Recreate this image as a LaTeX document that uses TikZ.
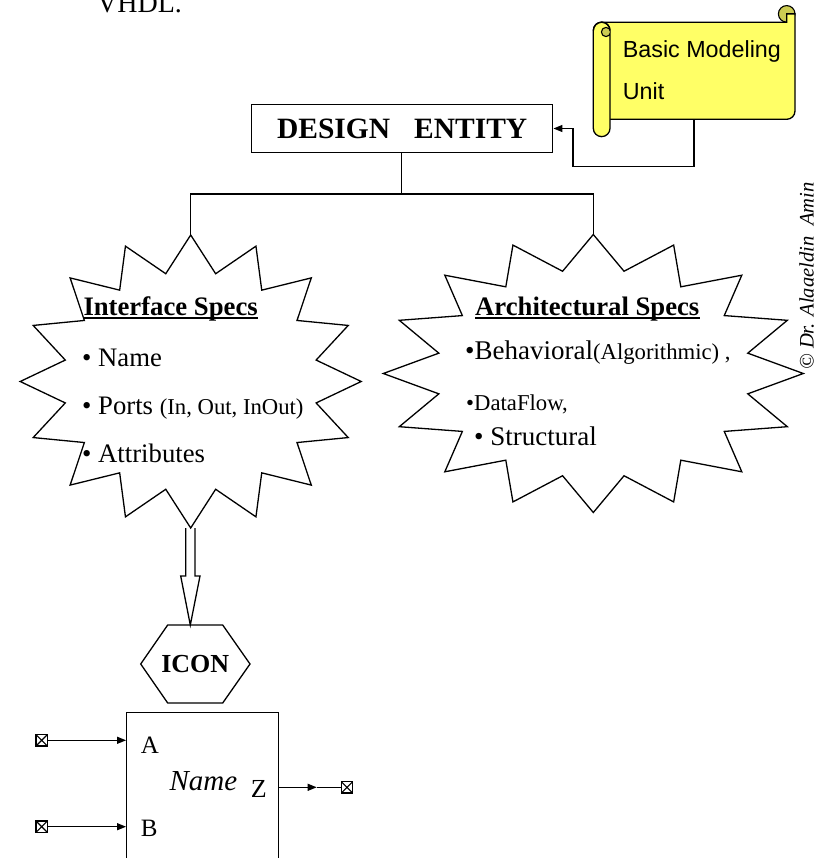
\documentclass[tikz,border=0pt]{standalone}
\usepackage{fontspec}
\setmainfont{Liberation Serif}
\newfontfamily\arialfont{Liberation Sans}
\usetikzlibrary{arrows.meta}

\definecolor{scrollyellow}{RGB}{255,255,102}
\definecolor{scrollshade}{RGB}{204,204,82}

\newcommand\setfs[1]{\fontsize{#1}{#1}\selectfont}

% 16-point burst: centre (#1,#2), radii #3 and #4, inner points at 75%
\newcommand\spikyburst[4]{%
  \draw[burst] ({#1},{#2-#4})
    \foreach \i in {1,...,31}{
      -- ({#1+(1-0.25*mod(\i,2))*#3*sin(\i*11.25)},{#2-(1-0.25*mod(\i,2))*#4*cos(\i*11.25)})
    } -- cycle;}

\tikzset{
  lbl/.style={inner sep=0pt, anchor=base west},
  burst/.style={line width=1.3},
  conn/.style={line width=1.5},
  tip/.style={-{Triangle[length=9pt,width=7pt]}},
  term/.style={draw, line width=1.4, minimum size=11.5pt, inner sep=0pt,
    path picture={\draw[line width=1.1]
      (path picture bounding box.south west) -- (path picture bounding box.north east)
      (path picture bounding box.north west) -- (path picture bounding box.south east);}},
  scroll/.style={fill=scrollyellow, draw, line width=1.3},
  shade/.style={fill=scrollshade, draw, line width=1.1},
}

\begin{document}
\begin{tikzpicture}[x=1pt,y=-1pt]
\useasboundingbox (0,0) rectangle (815,858);
\clip (0,0) rectangle (815,858);

% heading fragment at the top edge
\node[lbl, font=\setfs{28}] (vhdl) at (97,12.3) {VHDL.};

% ---------- scroll ----------
\filldraw[shade] (786.7,13.9) circle (8.3);
\filldraw[scroll] (601.7,22.2) -- (786.7,22.2) -- (786.7,13.9) -- (795,13.9)
  -- (795,111) arc (0:90:8.3) -- (601.7,119.3) -- cycle;
\filldraw[scroll] (593.3,30.5) arc (180:360:8.35) -- (610,128.3)
  arc (0:180:8.35) -- cycle;
\begin{scope}
  \clip (593.3,30.5) arc (180:360:8.35) -- (610,40) -- (593.3,40) -- cycle;
  \filldraw[shade] (606,32) circle (4.6);
\end{scope}
\draw[line width=1.3] (593.3,30.5) arc (180:360:8.35);
\node[lbl, font=\arialfont\setfs{23.3}] (bmu1) at (622.7,57.3) {Basic Modeling};
\node[lbl, font=\arialfont\setfs{23.3}] (bmu2) at (622.7,100) {Unit};
\coordinate (scrollfoot) at (694,119.3);

% ---------- design entity ----------
\node[draw, line width=1.5, minimum width=301pt, minimum height=48.4pt, inner sep=0pt,
      font=\bfseries\setfs{29.5}] (de) at (402.2,128.5) {DESIGN\hspace{24pt}ENTITY};

\draw[conn, line width=1.3, tip] (scrollfoot) |- (573,166.7) |- (de.east);

% ---------- bursts ----------
\spikyburst{190.7}{381.5}{170.5}{146.5}
\spikyburst{593.3}{373.5}{210}{139}
\coordinate (istop) at (190.7,235);
\coordinate (asttop) at (593.3,234.5);
\coordinate (isbot) at (190.7,528);
\coordinate (fork) at (401.7,194);

\draw[conn] (de.south -| fork) -- (fork);
\draw[conn] (istop) |- (fork) -| (asttop);

% interface specs
\node[lbl, font=\bfseries\setfs{26.7}] (ish) at (83.3,315) {Interface Specs};
\draw[line width=1.8] ([yshift=-3.3pt]ish.base west) -- ([yshift=-3.3pt]ish.base east);
\node[lbl, font=\setfs{26.7}] (is1) at (82,366) {• Name};
\node[lbl, font=\setfs{26.7}] (is2) at (82,414) {• Ports {\setfs{22.7}(In, Out, InOut)}};
\node[lbl, font=\setfs{26.7}] (is3) at (82,462) {• Attributes};

% architectural specs
\node[lbl, font=\bfseries\setfs{26.7}] (ash) at (475,315) {Architectural Specs};
\draw[line width=1.8] ([yshift=-3.3pt]ash.base west) -- ([yshift=-3.3pt]ash.base east);
\node[lbl, font=\setfs{27}] (as1) at (465,359) {•Behavioral{\setfs{22.7}(Algorithmic) ,}};
\node[lbl, font=\setfs{22.7}] (as2) at (466,410) {•DataFlow,};
\node[lbl, font=\setfs{27}] (as3) at (474,445) {• Structural};

% ---------- hollow arrow to the icon ----------
\draw[line width=1.3] (185.7,528) -- (185.7,576) -- (180.7,576) -- (190.3,625)
  -- (200,576) -- (195,576) -- (195,528);

\draw[line width=1.3] (167.7,625) -- (222.7,625) -- (250,664) -- (222.7,703)
  -- (167.7,703) -- (140.7,664) -- cycle;
\node[font=\bfseries\setfs{26}, inner sep=0pt] (icon) at (195.3,664) {ICON};

% ---------- entity block ----------
\node[draw, line width=1.3, minimum width=151.6pt, minimum height=167.3pt, inner sep=0pt]
  (blk) at (202.5,796.35) {};
\node[lbl, font=\setfs{25}] (pa) at (140.7,753.3) {A};
\node[lbl, font=\setfs{25}] (pb) at (140.7,836) {B};
\node[lbl, font=\itshape\setfs{29}] (nm) at (169.3,790.7) {Name};
\node[lbl, font=\setfs{26}] (pz) at (250.7,797.3) {Z};

\node[term] (ta) at (41.7,740.3) {};
\node[term] (tb) at (41.7,826.7) {};
\node[term] (tz) at (347,787.3) {};
\coordinate (zmid) at (316.7,787.3);

\draw[line width=1.2, tip] (ta.east) -- (blk.west |- ta);
\draw[line width=1.2, tip] (tb.east) -- (blk.west |- tb);
\draw[line width=1.2, tip] (blk.east |- tz) -- (zmid);
\draw[line width=1.2] (zmid) -- (tz.west);

% ---------- credit ----------
\node[lbl, rotate=90, font=\itshape\setfs{20.6}] (credit) at (813.5,370) {© Dr. Alaaeldin\ \ Amin};
\end{tikzpicture}
\end{document}
